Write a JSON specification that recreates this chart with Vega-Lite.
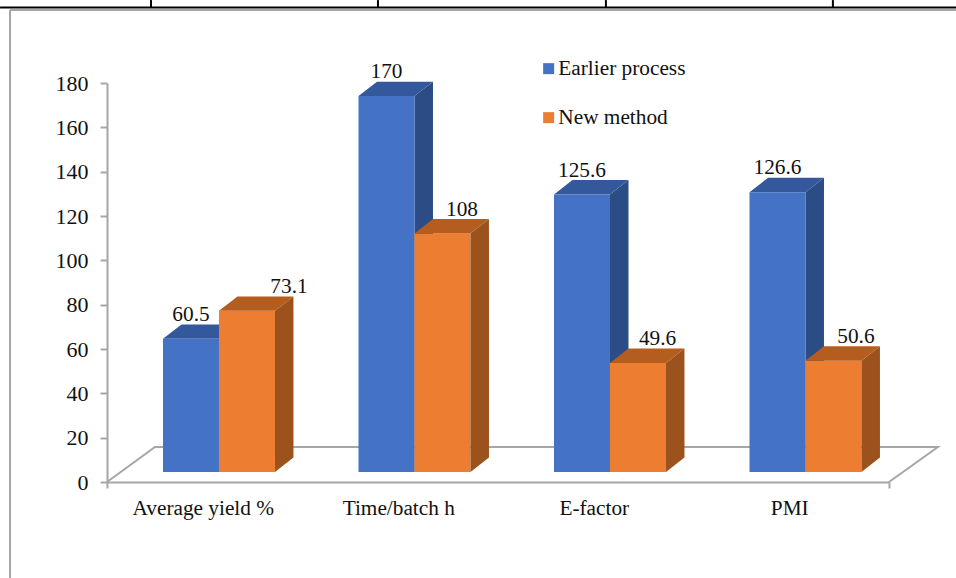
{
"$schema":"https://vega.github.io/schema/vega-lite/v6.json",
"width":782,"height":399,
"autosize":{"type":"none"},
"padding":{"left":107,"top":83,"right":67,"bottom":96},
"background":"white",
"config":{"view":{"stroke":null},"font":"Liberation Serif"},
"datasets":{
"bars":[
{"category":"Average yield %","series":"Earlier process","value":60.5},
{"category":"Average yield %","series":"New method","value":73.1},
{"category":"Time/batch h","series":"Earlier process","value":170},
{"category":"Time/batch h","series":"New method","value":108},
{"category":"E-factor","series":"Earlier process","value":125.6},
{"category":"E-factor","series":"New method","value":49.6},
{"category":"PMI","series":"Earlier process","value":126.6},
{"category":"PMI","series":"New method","value":50.6}
],
"floor":[{"a":0,"b":0,"k":1},{"a":0.2455,"b":15.8,"k":2},{"a":4.25,"b":15.8,"k":3},{"a":4,"b":0,"k":4}],
"frameGray":[
{"a":-0.496,"a2":4.345,"b":212.9,"b2":212.9},
{"a":-0.496,"a2":-0.496,"b":212.9,"b2":-43.3}
],
"frameBlack":[
{"a":-0.547,"a2":4.345,"b":214.1,"b2":214.1},
{"a":0.2251,"a2":0.2251,"b":217.4,"b2":214.1},
{"a":1.386,"a2":1.386,"b":217.4,"b2":214.1},
{"a":2.552,"a2":2.552,"b":217.4,"b2":214.1},
{"a":3.713,"a2":3.713,"b":217.4,"b2":214.1}
]
},
"data":{"name":"bars"},
"transform":[
{"calculate":"indexof(['Average yield %','Time/batch h','E-factor','PMI'],datum.category)","as":"slot"},
{"calculate":"datum.series==='New method'?1:0","as":"s"},
{"calculate":"datum.slot+0.2864+datum.s*0.2864","as":"left"},
{"calculate":"datum.left+0.2864","as":"right"},
{"calculate":"datum.value+4.1","as":"top"}
],
"encoding":{},
"layer":[
{"data":{"name":"frameGray"},"mark":{"type":"rule","strokeWidth":2,"color":"#a6a6a6"},
 "encoding":{"x":{"field":"a","type":"quantitative","scale":{"domain":[0,4],"nice":false,"zero":false},
   "axis":{"title":null,"values":[0,0.5,1.5,2.5,3.5,4],"grid":false,
     "labelExpr":"datum.value%1===0?'':['Average yield %','Time/batch h','E-factor','PMI'][floor(datum.value)]",
     "labelFontSize":21.3,"labelColor":"#111111","labelFont":"Liberation Serif","labelOverlap":false,"labelBound":false,"labelFlush":false,"labelPadding":9,"labelOffset":-2,
     "domainColor":"#a6a6a6","domainWidth":2,"tickColor":"#a6a6a6","tickWidth":2,"tickSize":6,
     "tickOpacity":{"condition":{"test":"datum.value%1===0","value":1},"value":0}}},
  "x2":{"field":"a2"},
  "y":{"field":"b","type":"quantitative","scale":{"domain":[0,180],"nice":false,"zero":false},
   "axis":{"title":null,"values":[0,20,40,60,80,100,120,140,160,180],"grid":false,"labelFontSize":22,"labelColor":"#111111","labelFont":"Liberation Serif","labelPadding":12,
     "domainColor":"#a6a6a6","domainWidth":2,"tickColor":"#a6a6a6","tickWidth":2,"tickSize":7}},
  "y2":{"field":"b2"}}},
{"data":{"name":"frameBlack"},"mark":{"type":"rule","strokeWidth":2,"color":"#000000"},
 "encoding":{"x":{"field":"a","type":"quantitative"},"x2":{"field":"a2"},"y":{"field":"b","type":"quantitative"},"y2":{"field":"b2"}}},
{"data":{"name":"floor"},"mark":{"type":"line","stroke":"#a6a6a6","strokeWidth":2},
 "encoding":{"x":{"field":"a","type":"quantitative"},"y":{"field":"b","type":"quantitative"},"order":{"field":"k","type":"quantitative"}}},
{"transform":[{"filter":"datum.s===0"},{"calculate":"[0,1]","as":"t"},{"flatten":["t"]},
  {"calculate":"datum.right+datum.t*0.0946","as":"sx"},{"calculate":"4.5+datum.t*6.5","as":"sy"},{"calculate":"datum.top+datum.t*6.5","as":"sy2"}],
 "mark":{"type":"area","color":"#2b4c84"},
 "encoding":{"x":{"field":"sx","type":"quantitative"},"y":{"field":"sy","type":"quantitative"},"y2":{"field":"sy2"},"detail":{"field":"category"}}},
{"transform":[{"filter":"datum.s===0"},{"calculate":"[0,1]","as":"t"},{"flatten":["t"]},
  {"calculate":"datum.left+datum.t*0.0946","as":"tx"},{"calculate":"datum.right+datum.t*0.0946","as":"tx2"},{"calculate":"datum.top+datum.t*6.5","as":"ty"}],
 "mark":{"type":"area","color":"#34589c","orient":"horizontal"},
 "encoding":{"y":{"field":"ty","type":"quantitative"},"x":{"field":"tx","type":"quantitative"},"x2":{"field":"tx2"},"detail":{"field":"category"}}},
{"mark":{"type":"rect"},
 "transform":[{"calculate":"4.5","as":"base"}],
 "encoding":{"x":{"field":"left","type":"quantitative"},"x2":{"field":"right"},"y":{"field":"base","type":"quantitative"},"y2":{"field":"top"},
  "color":{"field":"series","type":"nominal","scale":{"domain":["Earlier process","New method"],"range":["#4472c4","#ed7d31"]},
   "legend":{"title":null,"orient":"none","legendX":431,"legendY":-25,"padding":0,"symbolType":"square","symbolSize":121,"symbolStrokeWidth":0,"labelFontSize":21.3,"labelColor":"#111111","labelFont":"Liberation Serif","labelOffset":-1,"rowPadding":27,"labelLimit":300}}}},
{"transform":[{"filter":"datum.s===1"},{"calculate":"[0,1]","as":"t"},{"flatten":["t"]},
  {"calculate":"datum.right+datum.t*0.0946","as":"sx"},{"calculate":"4.5+datum.t*6.5","as":"sy"},{"calculate":"datum.top+datum.t*6.5","as":"sy2"}],
 "mark":{"type":"area","color":"#9c521d"},
 "encoding":{"x":{"field":"sx","type":"quantitative"},"y":{"field":"sy","type":"quantitative"},"y2":{"field":"sy2"},"detail":{"field":"category"}}},
{"transform":[{"filter":"datum.s===1"},{"calculate":"[0,1]","as":"t"},{"flatten":["t"]},
  {"calculate":"datum.left+datum.t*0.0946","as":"tx"},{"calculate":"datum.right+datum.t*0.0946","as":"tx2"},{"calculate":"datum.top+datum.t*6.5","as":"ty"}],
 "mark":{"type":"area","color":"#b55c1f","orient":"horizontal"},
 "encoding":{"y":{"field":"ty","type":"quantitative"},"x":{"field":"tx","type":"quantitative"},"x2":{"field":"tx2"},"detail":{"field":"category"}}},
{"transform":[
  {"calculate":"(datum.left+datum.right)/2+(datum.s===1?(datum.slot===0?0.215:(datum.slot===3?0.115:0.1)):0)","as":"lx"},
  {"calculate":"datum.value+14.9","as":"ly"}],
 "mark":{"type":"text","fontSize":21.3,"font":"Liberation Serif","color":"#111111","baseline":"middle","align":"center"},
 "encoding":{"x":{"field":"lx","type":"quantitative"},"y":{"field":"ly","type":"quantitative"},"text":{"field":"value","type":"nominal"}}}
]
}
